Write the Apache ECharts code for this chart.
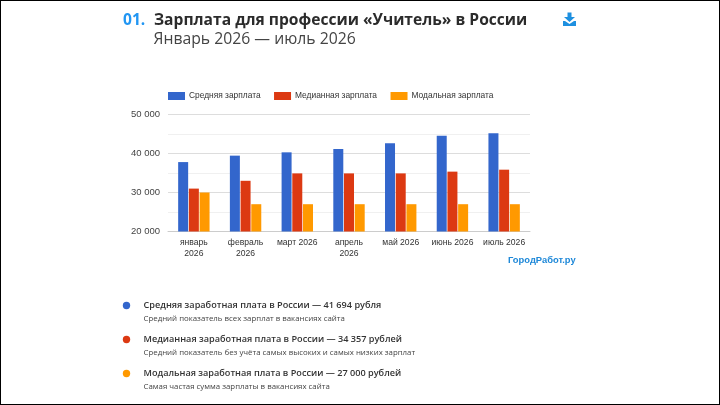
<!DOCTYPE html>
<html><head><meta charset="utf-8">
<style>html,body{margin:0;padding:0;background:#fff}#c{width:720px;height:405px}</style>
<script src="https://cdn.jsdelivr.net/npm/echarts@6/dist/echarts.min.js"></script>
</head><body><div id="c"></div>
<script>
const categories = ['январь\n2026','февраль\n2026','март 2026','апрель\n2026','май 2026','июнь 2026','июль 2026'];
const meanSalary = [37800,39450,40300,41150,42600,44550,45200];
const medianSalary = [31000,33000,34900,34900,34900,35350,35850];
const modalSalary = [30000,27000,27000,27000,27000,27000,27000];
const seriesNames = ['Средняя зарплата','Медианная зарплата','Модальная зарплата'];
const colors = ['#3366cc','#dc3912','#ff9900'];
const notes = [
 ['Средняя заработная плата в России — 41 694 рубля','Средний показатель всех зарплат в вакансиях сайта'],
 ['Медианная заработная плата в России — 34 357 рублей','Средний показатель без учёта самых высоких и самых низких зарплат'],
 ['Модальная заработная плата в России — 27 000 рублей','Самая частая сумма зарплаты в вакансиях сайта']
];
const F='"Open Sans"';
const noteEls=[];
notes.forEach((n,i)=>{
 const y=[305,339,373][i];
 noteEls.push({type:'circle',shape:{cx:126.5,cy:y+0.5,r:3.7},style:{fill:colors[i]}});
 noteEls.push({type:'text',x:143.5,y:y-4.5,style:{text:n[0],font:'600 9.15px '+F,fill:'#333'}});
 noteEls.push({type:'text',x:143.5,y:y+9.5,style:{text:n[1],font:'7.85px '+F,fill:'#444'}});
});
const chart=echarts.init(document.getElementById('c'),null,{renderer:'canvas'});
const mk=(i,d)=>({name:seriesNames[i],type:'bar',data:d,barWidth:10,barGap:'7%',
 itemStyle:{color:colors[i]},emphasis:{disabled:true}});
chart.setOption({
 animation:false,
 backgroundColor:'#fff',
 textStyle:{fontFamily:'"Liberation Sans"'},
 legend:{left:168,top:92,padding:0,itemWidth:17,itemHeight:8,itemGap:13.5,icon:'rect',
   textStyle:{fontSize:8.4,color:'#333',fontFamily:'"Liberation Sans"',padding:[0,0,0,-1]},data:seriesNames},
 grid:{left:168,right:190,top:114.5,height:117},
 xAxis:{type:'category',data:categories,
   axisLine:{lineStyle:{color:'#ccc',width:1}},axisTick:{show:false},
   axisLabel:{fontSize:8.6,color:'#333',interval:0,margin:6,lineHeight:11,fontFamily:'"Liberation Sans"',hideOverlap:false}},
 yAxis:{type:'value',min:20000,max:50000,interval:10000,
   axisLine:{show:false},axisTick:{show:false},
   axisLabel:{fontSize:9.5,color:'#444',margin:8,fontFamily:'"Liberation Sans"',
     formatter:v=>String(v).replace(/(\d{2})(\d{3})/,'$1 $2')},
   splitLine:{lineStyle:{color:'#ddd',width:1}},
   minorTick:{show:false,splitNumber:2},
   minorSplitLine:{show:true,lineStyle:{color:'#f0f0f0',width:1}}},
 series:[mk(0,meanSalary),mk(1,medianSalary),mk(2,modalSalary)],
 graphic:[
  {type:'rect',shape:{x:0,y:0,width:720,height:405},style:{fill:'none',stroke:'#000',lineWidth:2},silent:true},
  {type:'text',x:123,y:13,style:{text:'01.',font:'700 15.6px '+F,fill:'#2196f3'}},
  {type:'text',x:154,y:13,style:{text:'Зарплата для профессии «Учитель» в России',font:'700 15.6px '+F,fill:'#2b2b2b'}},
  {type:'text',x:153.5,y:32,style:{text:'Январь 2026 — июль 2026',font:'15.75px '+F,fill:'#444'}},
  {type:'polygon',shape:{points:[[567.5,12.5],[571.5,12.5],[571.5,17],[575,17],[569.5,22],[564,17],[567.5,17]]},style:{fill:'#1e90e0'}},
  {type:'polygon',shape:{points:[[563,21],[565,21],[569.5,24],[574,21],[576,21],[576,26],[563,26]]},style:{fill:'#1e90e0'}},
  {type:'text',x:508,y:255.5,style:{text:'ГородРабот.ру',font:'700 9.4px "Liberation Sans"',fill:'#1e88d8'}},
  ...noteEls
 ]
});
</script></body></html>
